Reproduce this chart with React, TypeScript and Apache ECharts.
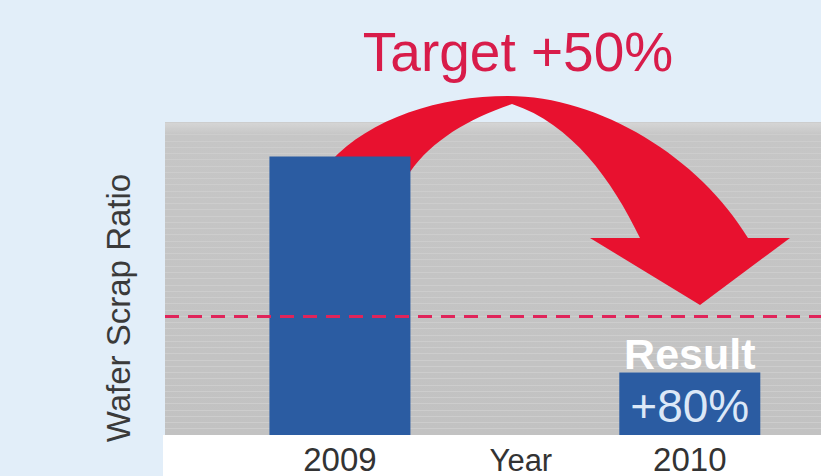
import React, { useEffect, useRef } from "react";
import * as echarts from "echarts";

const years = ["2009", "2010"];
const yearPositions = [1, 3];
const scrapRatio = [89, 20];
const targetLevel = 38;
const xTickLabels = ["", "2009", "Year", "2010"];
const resultTitle = "Result";
const resultValue = "+80%";
const targetTitle = "Target +50%";
const yTitle = "Wafer Scrap Ratio";

const FONT = "'Liberation Sans', Arial, Helvetica, sans-serif";

const arrowPath =
  "M 330 162 C 370 118 440 96 508 96 C 600 96 700 158 748 238 L 790 238 L 700 305 L 590 238 L 640 238 C 612 180 572 124 512 104 C 470 118 432 140 410 172 L 400 220 L 330 220 Z";

let registered = false;
function ensureShape() {
  if (registered) return;
  echarts.graphic.registerShape("logo", echarts.graphic.extendPath(arrowPath, {}) as any);
  registered = true;
}

export default function App() {
  const ref = useRef<HTMLDivElement>(null);
  useEffect(() => {
    if (!ref.current) return;
    ensureShape();
    const chart = echarts.init(ref.current, undefined, { renderer: "svg" });
    const data = years.map((y, i) => {
      const item: any = { name: y, value: [yearPositions[i], scrapRatio[i]] };
      if (i === 1) {
        item.label = {
          show: true,
          position: "insideBottom",
          distance: 0,
          formatter: `{a|${resultTitle}}\n{b|${resultValue}}`,
          rich: {
            a: { color: "#ffffff", fontSize: 43, fontWeight: "bold", lineHeight: 46, fontFamily: FONT },
            b: { color: "#dce8f7", fontSize: 46, lineHeight: 58, fontFamily: FONT },
          },
        };
      }
      return item;
    });
    chart.setOption({
      animation: false,
      backgroundColor: "#e2eef9",
      grid: {
        left: 165,
        right: 0,
        top: 122,
        bottom: 41,
        show: true,
        borderWidth: 0,
        outerBoundsMode: "none",
        containLabel: false,
        backgroundColor: new echarts.graphic.LinearGradient(0, 0, 0, 1, [
          { offset: 0, color: "#d6d6d6" },
          { offset: 0.04, color: "#c6c6c6" },
          { offset: 1, color: "#c2c2c2" },
        ]),
      },
      xAxis: {
        type: "value",
        min: 0,
        max: 3.75,
        interval: 1,
        z: 6,
        axisLine: { show: false },
        axisTick: { show: false },
        splitLine: { show: false },
        axisLabel: {
          margin: 7,
          color: "#333333",
          fontSize: 33,
          lineHeight: 34,
          fontFamily: FONT,
          showMaxLabel: false,
          formatter: (v: number) => {
            const s = xTickLabels[Math.round(v)] || "";
            return s === "Year" ? "{y|Year}" : s;
          },
          rich: {
            y: { fontSize: 31, lineHeight: 31, color: "#333333", fontFamily: FONT, padding: [5, 0, 0, 12] },
          },
        },
      },
      yAxis: {
        type: "value",
        min: 0,
        max: 100,
        interval: 2,
        axisLine: { show: false },
        axisTick: { show: false },
        axisLabel: { show: false },
        splitLine: { show: true, lineStyle: { color: "#cdcdcd", width: 1 } },
      },
      series: [
        {
          type: "bar",
          data,
          barWidth: 141,
          itemStyle: { color: "#2b5ca2" },
          z: 3,
          markLine: {
            silent: true,
            symbol: "none",
            label: { show: false },
            lineStyle: { color: "#e0245a", width: 3, type: [14, 9] },
            data: [{ yAxis: targetLevel }],
            z: 5,
          },
        },
      ],
      graphic: [
        {
          type: "rect",
          z: 1,
          shape: { x: 163, y: 435, width: 658, height: 41 },
          style: { fill: "#ffffff" },
        },
        {
          type: "logo",
          z: 1,
          x: 0,
          y: 0,
          style: { fill: "#e8112f" },
        },
        {
          type: "text",
          z: 10,
          x: 518,
          y: 52,
          style: {
            text: targetTitle,
            fill: "#d81c4a",
            fontSize: 55,
            fontFamily: FONT,
            textAlign: "center",
            textVerticalAlign: "middle",
          },
        },
        {
          type: "text",
          z: 10,
          x: 118,
          y: 308,
          rotation: Math.PI / 2,
          style: {
            text: yTitle,
            fill: "#3a3a3a",
            fontSize: 33,
            fontFamily: FONT,
            textAlign: "center",
            textVerticalAlign: "middle",
          },
        },
      ],
    });
    return () => chart.dispose();
  }, []);
  return (
    <div
      ref={ref}
      style={{ position: "fixed", left: 0, top: 0, width: 821, height: 476 }}
    />
  );
}
